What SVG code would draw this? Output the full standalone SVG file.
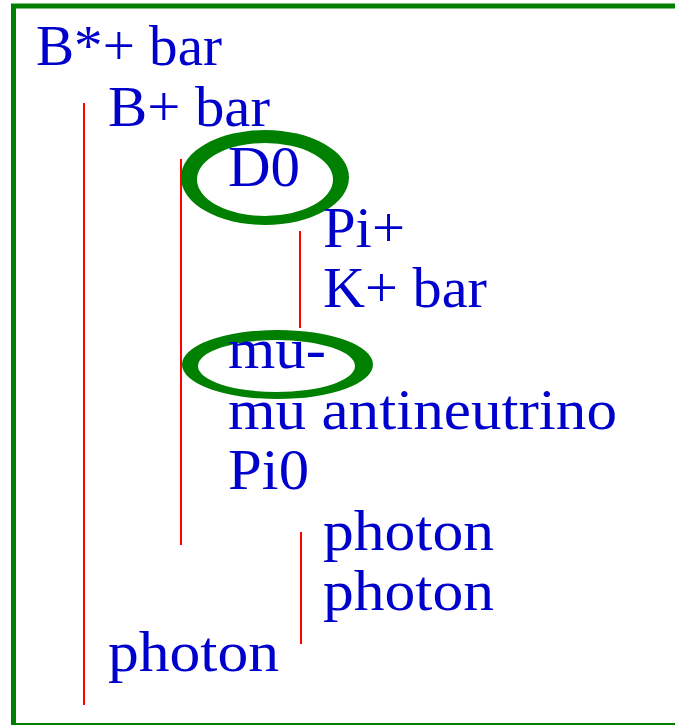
<svg xmlns="http://www.w3.org/2000/svg" width="675" height="725" viewBox="0 0 675 725">
<style>
.t{font-family:"Liberation Serif","Times New Roman",serif;font-size:56px;fill:#0000CC}
.c{stroke:#FF0000;stroke-width:2;fill:none}
.ring{fill:#008000;fill-rule:evenodd}
</style>
<rect x="0" y="0" width="675" height="725" fill="#FFFFFF"/>
<rect id="frame" x="13.5" y="6" width="700" height="719.5" fill="none" stroke="#008000" stroke-width="5"/>
<g id="connectors">
<line class="c" x1="84" y1="103" x2="84" y2="705"/>
<line class="c" x1="181" y1="159" x2="181" y2="545"/>
<line class="c" x1="300" y1="231" x2="300" y2="328"/>
<line class="c" x1="301" y1="532" x2="301" y2="644"/>
</g>
<g id="n-bstar"><text class="t" x="36" y="65" textLength="186" lengthAdjust="spacingAndGlyphs">B*+ bar</text></g>
<g id="n-bplus"><text class="t" x="108" y="125.6" textLength="162" lengthAdjust="spacingAndGlyphs">B+ bar</text></g>
<g id="n-d0">
<path class="ring" d="M181,177.5 a84,47.5 0 1,0 168,0 a84,47.5 0 1,0 -168,0 Z M197,179.5 a68,36.5 0 1,0 136,0 a68,36.5 0 1,0 -136,0 Z"/>
<text class="t" x="228" y="186" textLength="72" lengthAdjust="spacingAndGlyphs">D0</text>
</g>
<g id="n-piplus"><text class="t" x="323" y="247" textLength="82" lengthAdjust="spacingAndGlyphs">Pi+</text></g>
<g id="n-kplus"><text class="t" x="323" y="307" textLength="164" lengthAdjust="spacingAndGlyphs">K+ bar</text></g>
<g id="n-mu">
<path class="ring" d="M182,364.5 a95.5,34.5 0 1,0 191,0 a95.5,34.5 0 1,0 -191,0 Z M198,366 a78.5,26 0 1,0 157,0 a78.5,26 0 1,0 -157,0 Z"/>
<text class="t" x="228" y="368" textLength="98" lengthAdjust="spacingAndGlyphs">mu-</text>
</g>
<g id="n-nu"><text class="t" x="228" y="429" textLength="389" lengthAdjust="spacingAndGlyphs">mu antineutrino</text></g>
<g id="n-pi0"><text class="t" x="228" y="489" textLength="81" lengthAdjust="spacingAndGlyphs">Pi0</text></g>
<g id="n-ph1"><text class="t" x="323" y="550" textLength="171" lengthAdjust="spacingAndGlyphs">photon</text></g>
<g id="n-ph2"><text class="t" x="323" y="610" textLength="171" lengthAdjust="spacingAndGlyphs">photon</text></g>
<g id="n-ph3"><text class="t" x="108" y="671" textLength="171" lengthAdjust="spacingAndGlyphs">photon</text></g>
</svg>
